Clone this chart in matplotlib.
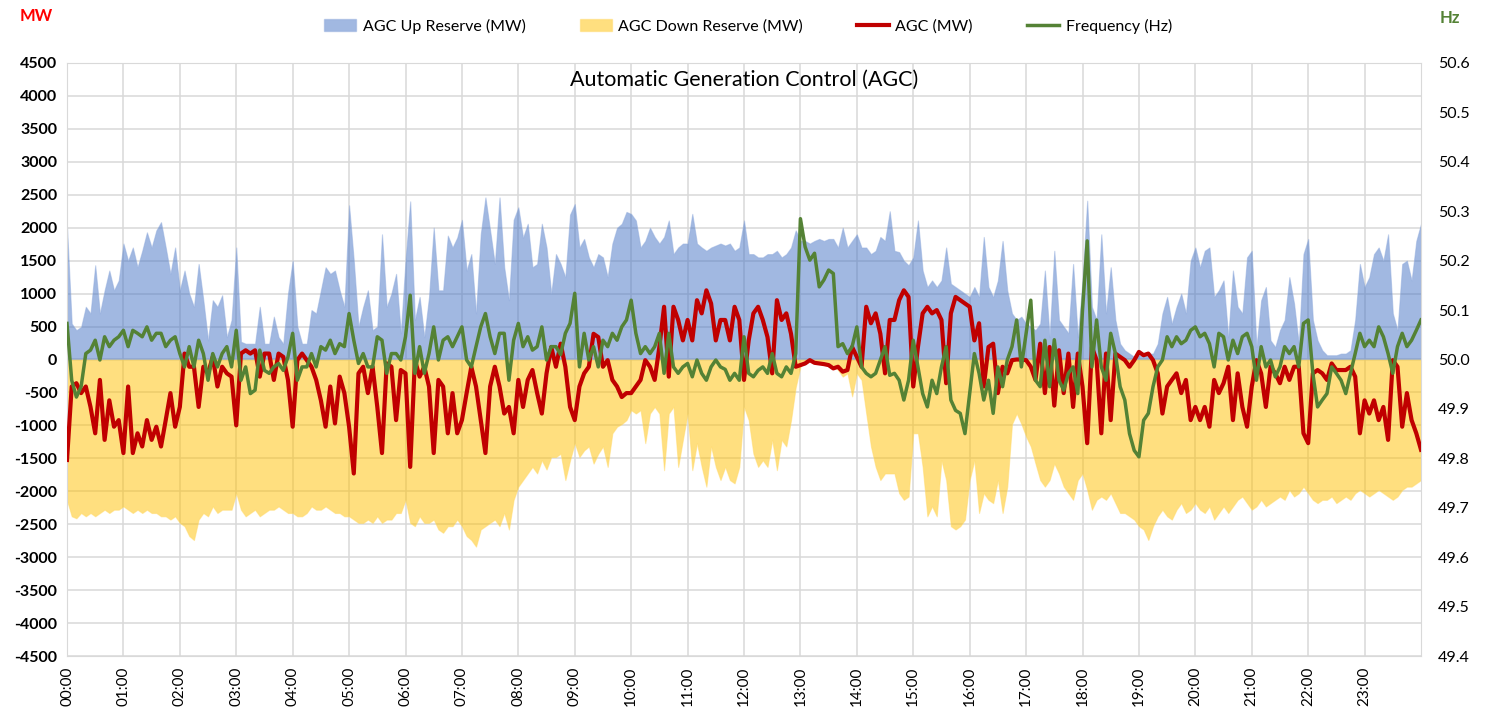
import numpy as np
import matplotlib
matplotlib.use("Agg")
from matplotlib import pyplot as plt
from matplotlib.patches import Patch
from matplotlib.lines import Line2D

# values every 5 minutes, 00:00 .. 24:00 (one row per hour)
up_reserve = [
    2010, 545, 445, 495, 800, 700, 1430, 700, 1050, 1350, 1050, 1200,
    1760, 1500, 1700, 1400, 1650, 1930, 1700, 1960, 2085, 1700, 1300, 1700,
    1050, 1350, 1000, 800, 1450, 900, 290, 900, 800, 975, 340, 600,
    1700, 270, 240, 240, 240, 800, 240, 240, 650, 340, 240, 1000,
    1500, 500, 240, 240, 750, 700, 1050, 1400, 1300, 1350, 1050, 800,
    2340, 1500, 500, 800, 1050, 445, 500, 1900, 800, 1000, 1300, 400,
    1500, 2400, 600, 950, 340, 950, 2000, 1050, 1050, 1880, 1700, 1850,
    2120, 1350, 1600, 700, 1900, 2460, 1960, 1450, 2460, 1400, 900, 2120,
    2310, 1850, 2060, 1400, 1450, 2060, 1700, 1000, 1600, 1450, 1250, 2200,
    2360, 1700, 1830, 1550, 1400, 1600, 1550, 1250, 1760, 2000, 2060, 2240,
    2210, 2110, 1700, 1800, 2000, 1860, 1760, 1860, 2110, 1600, 1700, 1760,
    1760, 2210, 1760, 1700, 1650, 1700, 1730, 1760, 1730, 1760, 1650, 1700,
    2110, 1600, 1600, 1550, 1550, 1600, 1600, 1650, 1550, 1600, 1700, 1960,
    1800, 1800, 1760, 1800, 1830, 1800, 1830, 1830, 1700, 2000, 1700, 1800,
    1900, 1700, 1700, 1600, 1650, 1860, 1800, 2250, 1650, 1630, 1500, 1430,
    1550, 2110, 1350, 1100, 1200, 1100, 1200, 1700, 1150, 1100, 1050, 1000,
    950, 1100, 950, 1860, 1100, 950, 1200, 1800, 1050, 700, 600, 650,
    545, 500, 445, 545, 1350, 340, 1650, 600, 500, 400, 1450, 340,
    1200, 2410, 800, 600, 1900, 700, 1400, 600, 240, 140, 90, 40,
    65, 65, 90, 90, 240, 700, 950, 545, 800, 1000, 700, 1500,
    1700, 1400, 1650, 1700, 950, 1050, 1200, 340, 1350, 800, 700, 1550,
    1650, 190, 900, 1100, 290, 190, 445, 600, 1250, 850, 240, 1600,
    1830, 600, 290, 140, 65, 65, 65, 90, 90, 140, 600, 1450,
    1100, 1250, 1600, 1700, 1500, 1900, 700, 445, 1450, 1500, 1200, 1800,
    2060,
]

down_reserve = [
    -2140, -2380, -2410, -2330, -2380, -2330, -2380, -2330, -2280, -2330, -2280, -2280,
    -2230, -2280, -2330, -2280, -2330, -2280, -2330, -2330, -2380, -2380, -2430, -2380,
    -2480, -2530, -2680, -2740, -2430, -2330, -2380, -2230, -2330, -2280, -2280, -2280,
    -2030, -2280, -2380, -2330, -2280, -2380, -2330, -2280, -2280, -2230, -2280, -2330,
    -2330, -2380, -2380, -2330, -2230, -2280, -2280, -2230, -2280, -2330, -2330, -2380,
    -2380, -2430, -2480, -2480, -2430, -2480, -2380, -2480, -2430, -2430, -2330, -2330,
    -2130, -2480, -2530, -2380, -2480, -2480, -2430, -2580, -2630, -2530, -2530, -2430,
    -2530, -2680, -2740, -2840, -2580, -2530, -2480, -2430, -2530, -2330, -2580, -2130,
    -1930, -1830, -1730, -1630, -1730, -1530, -1670, -1480, -1480, -1430, -1830, -1530,
    -1270, -1480, -1380, -1320, -1580, -1430, -1320, -1630, -1120, -1020, -980, -920,
    -770, -820, -770, -1270, -820, -720, -820, -1680, -820, -720, -1630, -1220,
    -820, -1680, -1270, -1630, -1930, -1320, -1630, -1830, -1630, -1830, -1880, -1630,
    -720, -920, -1430, -1630, -1530, -1630, -1220, -1680, -1220, -1320, -920, -420,
    -110, -10, -10, -10, -35, -60, -60, -85, -160, -260, -210, -560,
    -210, -310, -820, -1320, -1630, -1830, -1730, -1730, -1730, -2030, -2130, -2080,
    -1120, -1120, -1630, -2380, -2230, -2380, -1530, -1830, -2530, -2580, -2530, -2430,
    -1830, -1530, -2330, -2030, -2130, -2180, -1830, -2330, -1930, -980, -820, -980,
    -1170, -1320, -1580, -1830, -1930, -1830, -1580, -1730, -1930, -2030, -2130, -1830,
    -1730, -1980, -2280, -2130, -2080, -2130, -2030, -2180, -2330, -2330, -2380, -2430,
    -2530, -2580, -2740, -2530, -2380, -2280, -2380, -2430, -2280, -2180, -2330, -2280,
    -2180, -2280, -2330, -2230, -2430, -2330, -2230, -2330, -2230, -2130, -2080, -2180,
    -2280, -2230, -2130, -2230, -2180, -2130, -2080, -2130, -1980, -2080, -2030, -1930,
    -2030, -2130, -2180, -2130, -2130, -2080, -2180, -2130, -2080, -2130, -2030, -1980,
    -2030, -2080, -2030, -1980, -2030, -2080, -2130, -2080, -1980, -1930, -1930, -1880,
    -1830,
]

agc = [
    -1525, -410, -360, -510, -410, -720, -1120, -310, -1220, -620, -1020, -920,
    -1420, -410, -1420, -1120, -1320, -920, -1220, -1020, -1320, -920, -510, -1020,
    -720, 90, -110, -110, -720, -110, -210, 40, -410, -110, -210, -260,
    -1000, 90, 140, 90, 140, -260, 90, 90, -310, 90, 40, -310,
    -1020, -10, 90, -10, -110, -310, -620, -1020, -410, -970, -260, -510,
    -1020, -1730, -210, -110, -510, -110, -720, -1420, -60, -110, -920, -160,
    -210, -1630, -10, -260, -110, -410, -1420, -310, -410, -1120, -510, -1120,
    -920, -510, -110, -410, -920, -1420, -410, -110, -410, -820, -720, -1120,
    -310, -720, -310, -160, -510, -820, -210, 190, -110, 240, -110, -720,
    -920, -410, -210, -110, 390, 340, -110, -10, -310, -410, -570, -510,
    -510, -410, -310, -10, -110, -310, 190, 800, -260, 800, 600, 290,
    600, 290, 900, 700, 1050, 850, 290, 600, 600, 290, 800, 600,
    -310, 290, 700, 800, 600, 340, -210, 900, 600, 700, 390, -110,
    -85, -60, -10, -50, -60, -70, -85, -135, -110, -185, -160, 190,
    40, -110, 800, 550, 700, 390, -210, 600, 600, 900, 1050, 950,
    -410, 190, 700, 800, 700, 750, 600, -360, 700, 950, 900, 850,
    800, 290, 550, -410, 190, 240, -510, -110, -210, -10, 0, 0,
    -10, -110, -310, 240, -510, 190, -700, 140, -510, 90, -720, 90,
    -410, -1270, 190, -10, -1120, 90, -920, 90, 40, -10, -110, -10,
    115, 65, 90, -10, -210, -820, -410, -310, -210, -510, -310, -920,
    -720, -920, -720, -1020, -310, -510, -360, -110, -920, -210, -720, -1020,
    -410, -10, -210, -720, -110, -210, -360, -110, -310, -110, -110, -1120,
    -1270, -210, -160, -210, -310, -60, -160, -160, -160, -110, -260, -1120,
    -620, -820, -620, -920, -720, -1220, -10, -110, -1020, -510, -920, -1120,
    -1370,
]

frequency = [
    50.073, 49.958, 49.924, 49.945, 50.012, 50.019, 50.039, 49.999, 50.046, 50.026, 50.039, 50.046,
    50.059, 50.026, 50.059, 50.053, 50.046, 50.066, 50.039, 50.053, 50.053, 50.026, 50.039, 50.046,
    50.012, 49.985, 50.026, 49.985, 50.039, 50.012, 49.958, 50.012, 49.985, 50.012, 50.026, 49.985,
    50.059, 49.958, 49.985, 49.931, 49.938, 50.019, 49.978, 49.972, 49.985, 49.992, 49.978, 50.005,
    50.053, 49.958, 49.985, 49.985, 50.012, 49.985, 50.026, 50.019, 50.039, 50.012, 50.032, 50.026,
    50.093, 50.039, 49.992, 50.012, 49.985, 49.985, 50.046, 50.039, 49.972, 50.012, 50.012, 49.999,
    50.046, 50.130, 49.972, 50.026, 49.972, 50.012, 50.066, 49.999, 50.039, 50.046, 50.026, 50.046,
    50.066, 49.999, 49.985, 50.026, 50.066, 50.093, 50.046, 50.012, 50.053, 50.053, 49.958, 50.039,
    50.073, 50.026, 50.046, 50.019, 50.026, 50.066, 49.999, 50.026, 50.026, 50.010, 50.053, 50.073,
    50.134, 49.985, 50.053, 49.999, 50.026, 49.985, 50.039, 50.026, 50.053, 50.039, 50.066, 50.080,
    50.120, 50.053, 50.012, 50.026, 50.012, 50.026, 50.053, 49.972, 50.053, 49.985, 49.972, 49.985,
    49.992, 49.965, 49.999, 49.972, 49.958, 49.985, 49.999, 49.985, 49.980, 49.958, 49.972, 49.958,
    50.046, 49.972, 49.965, 49.978, 49.985, 49.972, 50.012, 49.972, 49.965, 49.985, 49.972, 50.012,
    50.285, 50.228, 50.201, 50.215, 50.147, 50.161, 50.181, 50.174, 50.026, 50.032, 50.012, 50.026,
    50.066, 49.985, 49.972, 49.965, 49.972, 49.999, 50.026, 49.968, 49.972, 49.958, 49.918, 49.958,
    50.039, 49.985, 49.931, 49.904, 49.958, 49.931, 49.985, 50.026, 49.918, 49.897, 49.891, 49.850,
    49.931, 50.012, 49.972, 49.918, 49.958, 49.891, 49.985, 49.945, 49.999, 50.026, 50.080, 49.985,
    50.053, 50.120, 49.958, 49.945, 50.039, 49.945, 50.040, 49.958, 49.938, 49.972, 49.985, 49.931,
    50.100, 50.240, 49.985, 50.080, 49.985, 49.958, 50.053, 50.012, 49.945, 49.918, 49.850, 49.816,
    49.803, 49.877, 49.891, 49.945, 49.985, 49.999, 50.046, 50.026, 50.046, 50.032, 50.039, 50.059,
    50.066, 50.046, 50.053, 50.032, 49.985, 50.053, 50.046, 49.999, 50.039, 50.012, 50.046, 50.053,
    50.026, 49.958, 50.026, 49.985, 49.999, 49.965, 49.985, 50.026, 50.012, 50.026, 49.985, 50.073,
    50.080, 49.972, 49.904, 49.918, 49.931, 49.985, 49.972, 49.958, 49.931, 49.972, 50.012, 50.053,
    50.026, 50.039, 50.026, 50.066, 50.046, 50.012, 49.972, 50.026, 50.053, 50.026, 50.039, 50.059,
    50.080,
]

hour_labels = [f"{h:02d}:00" for h in range(24)]
mw_ticks = list(range(-4500, 4501, 500))
hz_ticks = [49.4, 49.5, 49.6, 49.7, 49.8, 49.9, 50.0, 50.1, 50.2, 50.3, 50.4, 50.5, 50.6]

plt.rcParams["font.family"] = ["Lato", "DejaVu Sans"]

t = np.arange(len(up_reserve)) * 5 / 60.0
grid_col = "#D9D9D9"

fig = plt.figure(figsize=(14.88, 7.14), dpi=100)
ax = fig.add_axes([67 / 1488, 1 - 656 / 714, (1421 - 67) / 1488, (656 - 63) / 714])
ax.set_axisbelow(True)
ax.grid(True, color=grid_col, linewidth=1.1, zorder=0)

ax.fill_between(t, 0, up_reserve, color="#4472C4", alpha=0.5, linewidth=0.8,
                edgecolor="#8FAADC", zorder=2)
ax.fill_between(t, down_reserve, 0, color="#FFC000", alpha=0.5, linewidth=0.8,
                edgecolor="#FFD966", zorder=2)
ax.plot(t, agc, color="#C00000", linewidth=3.0, zorder=3)

ax.set_xlim(0, 24)
ax.set_ylim(-4500, 4500)
ax.set_xticks(range(24))
ax.set_xticklabels(hour_labels, rotation=90, fontsize=11)
ax.set_yticks(mw_ticks)
ax.set_yticklabels([str(v) for v in mw_ticks], fontsize=11.5, fontweight="bold")
ax.tick_params(length=0, pad=7)
ax.tick_params(axis="x", pad=8)
for s in ax.spines.values():
    s.set_color(grid_col)

ax2 = ax.twinx()
ax2.plot(t, frequency, color="#548235", linewidth=2.5, zorder=4)
ax2.set_ylim(49.4, 50.6)
ax2.set_yticks(hz_ticks)
ax2.set_yticklabels([f"{v:.1f}" for v in hz_ticks], fontsize=11.5)
ax2.tick_params(length=0, pad=12)
for s in ax2.spines.values():
    s.set_visible(False)

ax.text(0.5, 0.988, "Automatic Generation Control (AGC)", transform=ax.transAxes,
        ha="center", va="top", fontsize=15.5)
fig.text(20 / 1488, 1 - 16 / 714, "MW", color="#FF0000", fontsize=12,
         fontweight="bold", ha="left", va="center")
fig.text(1440 / 1488, 1 - 18 / 714, "Hz", color="#548235", fontsize=12,
         fontweight="bold", ha="left", va="center")

handles = [
    Patch(facecolor="#4472C4", alpha=0.5, edgecolor="#8FAADC"),
    Patch(facecolor="#FFC000", alpha=0.5, edgecolor="#FFD966"),
    Line2D([0], [0], color="#C00000", linewidth=3),
    Line2D([0], [0], color="#548235", linewidth=2.5),
]
labels = ["AGC Up Reserve (MW)", "AGC Down Reserve (MW)", "AGC (MW)", "Frequency (Hz)"]
fig.legend(handles, labels, loc="center", bbox_to_anchor=(748 / 1488, 1 - 26 / 714),
           ncol=4, frameon=False, fontsize=11.5, columnspacing=3.4,
           handlelength=2.0, handletextpad=0.4)

plt.savefig("out.png", dpi=100)
